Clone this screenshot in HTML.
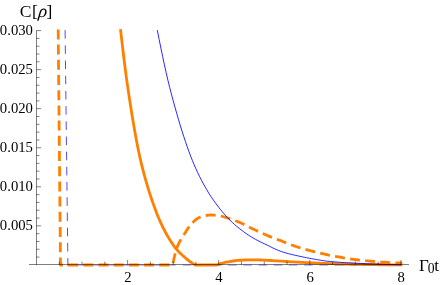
<!DOCTYPE html>
<html><head><meta charset="utf-8"><title>plot</title>
<style>
html,body{margin:0;padding:0;background:#fff;}
body{width:441px;height:285px;overflow:hidden;}
svg{display:block;will-change:transform;}
.tl{font-family:"Liberation Serif",serif;font-size:14.7px;fill:#000;}
.al{font-family:"Liberation Serif",serif;font-size:17px;fill:#000;}
.c{fill:none;stroke-linecap:square;stroke-linejoin:round;}
</style></head><body>
<svg width="441" height="285" viewBox="0 0 441 285">
<rect width="441" height="285" fill="#fff"/>
<path class="c" d="M65.10,30.60 L67.90,265.10" stroke="#0000ff" stroke-width="0.7" stroke-dasharray="7.6 7.6"/>
<path class="c" d="M67.90,265.10 L400.90,265.10" stroke="#0000ff" stroke-width="0.45" stroke-dasharray="7.6 7.6" stroke-dashoffset="6.52"/>
<path class="c" d="M120.65,30.60 L121.59,38.82 L122.54,46.89 L123.48,54.79 L124.43,62.47 L125.37,69.90 L126.32,77.06 L127.26,83.90 L128.21,90.40 L129.15,96.63 L130.10,102.77 L131.04,108.78 L131.99,114.67 L132.93,120.41 L133.88,126.01 L134.82,131.44 L135.77,136.69 L136.71,141.75 L137.66,146.61 L138.60,151.26 L139.55,155.68 L140.49,159.86 L141.44,163.81 L142.38,167.61 L143.33,171.29 L144.27,174.85 L145.22,178.30 L146.16,181.64 L147.11,184.89 L148.05,188.03 L149.00,191.09 L149.94,194.05 L150.89,196.94 L151.83,199.75 L152.78,202.49 L153.72,205.16 L154.67,207.78 L155.61,210.33 L156.56,212.84 L157.50,215.29 L158.45,217.59 L159.39,219.78 L160.34,221.87 L161.28,223.90 L162.23,225.90 L163.17,227.84 L164.12,229.72 L165.06,231.53 L166.01,233.28 L166.95,234.95 L167.90,236.58 L168.84,238.15 L169.79,239.68 L170.73,241.16 L171.68,242.62 L172.62,244.06 L173.57,245.46 L174.51,246.79 L175.46,248.03 L176.40,249.17 L177.35,250.25 L178.29,251.27 L179.24,252.24 L180.18,253.17 L181.13,254.08 L182.07,254.95 L183.02,255.81 L183.96,256.65 L184.91,257.48 L185.85,258.30 L186.80,259.09 L187.74,259.85 L188.69,260.60 L189.63,261.31 L190.58,262.00 L191.52,262.66 L192.47,263.29 L193.41,263.88 L194.36,264.46 L195.30,265.00 L195.30,265.00 L216.80,265.00 L216.80,265.00 L219.13,264.19 L221.46,263.43 L223.79,262.75 L226.12,262.21 L228.45,261.76 L230.78,261.36 L233.11,261.00 L235.44,260.69 L237.77,260.46 L240.10,260.27 L242.43,260.12 L244.76,260.01 L247.09,259.93 L249.43,259.86 L251.76,259.82 L254.09,259.80 L256.42,259.83 L258.75,259.91 L261.08,260.02 L263.41,260.12 L265.74,260.23 L268.07,260.36 L270.40,260.50 L272.73,260.64 L275.06,260.78 L277.39,260.93 L279.72,261.07 L282.05,261.22 L284.38,261.36 L286.71,261.50 L289.04,261.65 L291.37,261.79 L293.70,261.93 L296.03,262.06 L298.36,262.19 L300.69,262.32 L303.02,262.45 L305.35,262.58 L307.68,262.69 L310.02,262.80 L312.35,262.90 L314.68,263.00 L317.01,263.10 L319.34,263.19 L321.67,263.28 L324.00,263.37 L326.33,263.46 L328.66,263.54 L330.99,263.62 L333.32,263.70 L335.65,263.77 L337.98,263.84 L340.31,263.91 L342.64,263.98 L344.97,264.04 L347.30,264.10 L349.63,264.17 L351.96,264.23 L354.29,264.29 L356.62,264.34 L358.95,264.40 L361.28,264.45 L363.61,264.49 L365.94,264.54 L368.27,264.57 L370.61,264.61 L372.94,264.64 L375.27,264.67 L377.60,264.70 L379.93,264.73 L382.26,264.76 L384.59,264.78 L386.92,264.81 L389.25,264.83 L391.58,264.85 L393.91,264.87 L396.24,264.88 L398.57,264.89 L400.90,264.90" stroke="#ff8000" stroke-width="2.8"/>
<path class="c" d="M58.20,30.60 L60.50,265.00 L172.60,265.00 L174.24,257.45 L175.88,250.90 L177.53,246.04 L179.17,242.50 L180.81,239.60 L182.45,237.05 L184.10,234.58 L185.74,231.97 L187.38,229.35 L189.02,226.88 L190.67,224.72 L192.31,222.97 L193.95,221.36 L195.59,219.88 L197.24,218.63 L198.88,217.67 L200.52,217.06 L202.16,216.54 L203.81,216.07 L205.45,215.67 L207.09,215.35 L208.73,215.12 L210.38,215.01 L212.02,215.02 L213.66,215.11 L215.30,215.26 L216.95,215.46 L218.59,215.69 L220.23,215.94 L221.87,216.28 L223.52,216.74 L225.16,217.25 L226.80,217.74 L228.44,218.27 L230.09,218.83 L231.73,219.41 L233.37,220.00 L235.01,220.61 L236.66,221.24 L238.30,221.89 L239.94,222.57 L241.58,223.30 L243.23,224.08 L244.87,224.89 L246.51,225.72 L248.15,226.57 L249.79,227.42 L251.44,228.25 L253.08,229.06 L254.72,229.84 L256.36,230.60 L258.01,231.36 L259.65,232.11 L261.29,232.85 L262.93,233.58 L264.58,234.30 L266.22,235.01 L267.86,235.70 L269.50,236.38 L271.15,237.03 L272.79,237.68 L274.43,238.31 L276.07,238.94 L277.72,239.56 L279.36,240.18 L281.00,240.81 L282.64,241.44 L284.29,242.09 L285.93,242.74 L287.57,243.40 L289.21,244.04 L290.86,244.68 L292.50,245.30 L294.14,245.90 L295.78,246.46 L297.43,247.00 L299.07,247.52 L300.71,248.02 L302.35,248.50 L304.00,248.98 L305.64,249.44 L307.28,249.89 L308.92,250.33 L310.57,250.76 L312.21,251.19 L313.85,251.61 L315.49,252.02 L317.14,252.43 L318.78,252.82 L320.42,253.21 L322.06,253.58 L323.71,253.95 L325.35,254.31 L326.99,254.66 L328.63,255.01 L330.27,255.36 L331.92,255.69 L333.56,256.02 L335.20,256.34 L336.84,256.65 L338.49,256.94 L340.13,257.22 L341.77,257.50 L343.41,257.77 L345.06,258.04 L346.70,258.31 L348.34,258.57 L349.98,258.82 L351.63,259.07 L353.27,259.31 L354.91,259.54 L356.55,259.76 L358.20,259.97 L359.84,260.17 L361.48,260.35 L363.12,260.52 L364.77,260.67 L366.41,260.82 L368.05,260.97 L369.69,261.11 L371.34,261.26 L372.98,261.40 L374.62,261.53 L376.26,261.67 L377.91,261.80 L379.55,261.93 L381.19,262.05 L382.83,262.16 L384.48,262.27 L386.12,262.38 L387.76,262.48 L389.40,262.57 L391.05,262.66 L392.69,262.73 L394.33,262.80 L395.97,262.87 L397.62,262.92 L399.26,262.96 L400.90,263.00" stroke="#ff8000" stroke-width="2.8" stroke-dasharray="7.2 8" stroke-dashoffset="-0.2"/>
<path class="c" d="M157.40,30.60 L159.15,39.46 L160.90,48.14 L162.66,56.61 L164.41,64.81 L166.16,72.70 L167.91,80.24 L169.66,87.37 L171.41,94.08 L173.17,100.61 L174.92,106.98 L176.67,113.18 L178.42,119.23 L180.17,125.09 L181.93,130.77 L183.68,136.27 L185.43,141.56 L187.18,146.65 L188.93,151.53 L190.68,156.19 L192.44,160.62 L194.19,164.83 L195.94,168.82 L197.69,172.62 L199.44,176.24 L201.19,179.69 L202.95,183.00 L204.70,186.17 L206.45,189.23 L208.20,192.17 L209.95,194.97 L211.71,197.63 L213.46,200.17 L215.21,202.62 L216.96,204.98 L218.71,207.28 L220.46,209.51 L222.22,211.67 L223.97,213.75 L225.72,215.74 L227.47,217.64 L229.22,219.44 L230.98,221.17 L232.73,222.82 L234.48,224.41 L236.23,225.93 L237.98,227.38 L239.73,228.78 L241.49,230.13 L243.24,231.44 L244.99,232.71 L246.74,233.94 L248.49,235.12 L250.25,236.26 L252.00,237.34 L253.75,238.38 L255.50,239.35 L257.25,240.28 L259.00,241.17 L260.76,242.04 L262.51,242.88 L264.26,243.72 L266.01,244.57 L267.76,245.43 L269.52,246.31 L271.27,247.18 L273.02,248.05 L274.77,248.87 L276.52,249.64 L278.27,250.36 L280.03,251.04 L281.78,251.67 L283.53,252.25 L285.28,252.78 L287.03,253.27 L288.78,253.74 L290.54,254.18 L292.29,254.60 L294.04,255.01 L295.79,255.41 L297.54,255.80 L299.30,256.19 L301.05,256.57 L302.80,256.94 L304.55,257.31 L306.30,257.66 L308.05,258.00 L309.81,258.34 L311.56,258.65 L313.31,258.96 L315.06,259.28 L316.81,259.59 L318.57,259.89 L320.32,260.19 L322.07,260.47 L323.82,260.74 L325.57,260.99 L327.32,261.21 L329.08,261.41 L330.83,261.58 L332.58,261.73 L334.33,261.88 L336.08,262.01 L337.84,262.15 L339.59,262.27 L341.34,262.39 L343.09,262.50 L344.84,262.61 L346.59,262.71 L348.35,262.81 L350.10,262.90 L351.85,262.99 L353.60,263.08 L355.35,263.17 L357.11,263.26 L358.86,263.34 L360.61,263.43 L362.36,263.51 L364.11,263.59 L365.86,263.67 L367.62,263.75 L369.37,263.83 L371.12,263.90 L372.87,263.97 L374.62,264.04 L376.37,264.11 L378.13,264.17 L379.88,264.23 L381.63,264.29 L383.38,264.35 L385.13,264.40 L386.89,264.46 L388.64,264.51 L390.39,264.55 L392.14,264.60 L393.89,264.65 L395.64,264.69 L397.40,264.73 L399.15,264.76 L400.90,264.80" stroke="#0000ff" stroke-width="0.85"/>
<g fill="none" stroke="#000">
<path d="M29,264.5 H409" stroke-width="0.5"/>
<path d="M36.5,265 V30.4" stroke-width="0.5"/>
<path d="M127.60,264.9 v-4.9 M218.70,264.9 v-4.9 M309.80,264.9 v-4.9 M400.90,264.9 v-4.9 M36.5,225.85 h4.6 M36.5,186.80 h4.6 M36.5,147.75 h4.6 M36.5,108.70 h4.6 M36.5,69.65 h4.6 M36.5,30.60 h4.6" stroke-width="0.5"/>
<path d="M59.27,264.9 v-3.3 M82.05,264.9 v-3.3 M104.82,264.9 v-3.3 M150.38,264.9 v-3.3 M173.15,264.9 v-3.3 M195.92,264.9 v-3.3 M241.47,264.9 v-3.3 M264.25,264.9 v-3.3 M287.02,264.9 v-3.3 M332.57,264.9 v-3.3 M355.35,264.9 v-3.3 M378.12,264.9 v-3.3 M36.5,257.09 h3.0 M36.5,249.28 h3.0 M36.5,241.47 h3.0 M36.5,233.66 h3.0 M36.5,218.04 h3.0 M36.5,210.23 h3.0 M36.5,202.42 h3.0 M36.5,194.61 h3.0 M36.5,178.99 h3.0 M36.5,171.18 h3.0 M36.5,163.37 h3.0 M36.5,155.56 h3.0 M36.5,139.94 h3.0 M36.5,132.13 h3.0 M36.5,124.32 h3.0 M36.5,116.51 h3.0 M36.5,100.89 h3.0 M36.5,93.08 h3.0 M36.5,85.27 h3.0 M36.5,77.46 h3.0 M36.5,61.84 h3.0 M36.5,54.03 h3.0 M36.5,46.22 h3.0 M36.5,38.41 h3.0" stroke-width="0.5"/>
</g>
<text x="32.9" y="230.2" text-anchor="end" class="tl">0.005</text>
<text x="32.9" y="191.2" text-anchor="end" class="tl">0.010</text>
<text x="32.9" y="152.2" text-anchor="end" class="tl">0.015</text>
<text x="32.9" y="113.2" text-anchor="end" class="tl">0.020</text>
<text x="32.9" y="74.2" text-anchor="end" class="tl">0.025</text>
<text x="32.9" y="35.2" text-anchor="end" class="tl">0.030</text>
<text x="127.9" y="281.9" text-anchor="middle" class="tl">2</text>
<text x="219.0" y="281.9" text-anchor="middle" class="tl">4</text>
<text x="310.1" y="281.9" text-anchor="middle" class="tl">6</text>
<text x="401.2" y="281.9" text-anchor="middle" class="tl">8</text>

<text x="19.8" y="16.9" class="al" style="font-size:17.5px">C</text>
<text x="31.9" y="16.9" class="al" style="font-size:17.5px">[</text>
<text x="0" y="0" class="al" style="font-size:18px;font-style:italic" transform="translate(37.9,16.9) skewX(-6)">ρ</text>
<text x="46.6" y="16.9" class="al" style="font-size:17.5px">]</text>
<text x="419.1" y="270.5" class="al">Γ</text>
<text x="427.8" y="273.4" class="al" style="font-size:13.6px">0</text>
<text x="434.2" y="270.5" class="al">t</text>
</svg>
</body></html>
